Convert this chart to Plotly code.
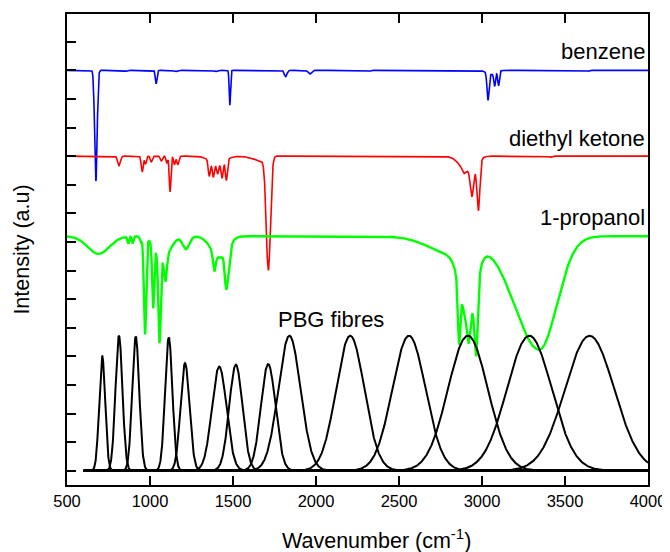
import numpy as np
import plotly.graph_objects as go

# ---------------- data ----------------
wn_start, wn_end, wn_step = 500, 4000, 1.0
pbg_start = 600

# Benzene: offset, band centres (cm-1), depths (a.u.), left / right gaussian widths (cm-1)
benzene_offset = 14.0
benzene_centres = [674, 855, 1037, 1157, 1397, 1481, 1817, 1962, 2326, 3036, 3060, 3076, 3100, 3645]
benzene_depths  = [3.87, 0.03, 0.47, 0.04, 0.04, 1.22, 0.22, 0.13, 0.03, 0.95, 0.14, 0.45, 0.50, 0.03]
benzene_wl      = [7.5, 10, 5, 10, 10, 4, 8, 10, 5, 6, 30, 5, 5, 5]
benzene_wr      = [7.5, 10, 5, 10, 10, 4, 8, 10, 5, 6, 25, 5, 5, 5]

# Diethyl ketone
ketone_offset = 11.0
ketone_centres = [813, 953, 973, 1008, 1068, 1101, 1121, 1147, 1167, 1357, 1381, 1405, 1407, 1434, 1460,
                  1690, 1713, 2890, 2910, 2940, 2978, 3413]
ketone_depths  = [0.33, 0.55, 0.28, 0.20, 0.17, 0.25, 1.25, 0.30, 0.30, 0.55, 0.50, 0.28, 0.35, 0.55, 0.72,
                  0.18, 3.90, 0.15, 0.50, 1.00, 1.75, 0.04]
ketone_wl      = [8, 6, 5, 6, 6, 5, 5, 5, 6, 6, 6, 45, 6, 6, 6,
                  60, 12.5, 10, 45, 10, 9, 8]
ketone_wr      = [8, 6, 5, 6, 6, 5, 5, 5, 6, 6, 6, 45, 6, 6, 6,
                  20, 12.5, 10, 45, 10, 9, 8]

# 1-propanol
propanol_offset = 8.2
propanol_centres = [690, 869, 895, 945, 970, 1019, 1057, 1075, 1093, 1217, 1387, 1420, 1460,
                    2840, 2861, 2915, 2920, 2965, 3345]
propanol_depths  = [0.62, 0.25, 0.25, 0.20, 3.38, 2.15, 3.00, 0.80, 0.85, 0.45, 0.62, 0.75, 1.36,
                    0.65, 2.00, 2.30, 0.85, 2.40, 3.97]
propanol_wl      = [65, 5, 5, 6, 7, 6, 7, 45, 8, 20, 8, 50, 9,
                    150, 7, 45, 10, 10, 150]
propanol_wr      = [65, 5, 5, 6, 7, 6, 7, 45, 8, 20, 8, 45, 15,
                    120, 7, 45, 10, 10, 105]

# PBG fibres: gaussian components (centre, height, sigma)
pbg_centres = [712, 813, 914, 1113, 1211, 1417, 1517, 1712, 1840, 2206, 2560, 2915, 3285, 3648]
pbg_heights = [4.02, 4.72, 4.69, 4.66, 3.76, 3.64, 3.71, 3.73, 4.72, 4.72, 4.72, 4.72, 4.72, 4.72]
pbg_sigmas  = [18, 21, 21, 22, 27, 44, 40, 44, 67, 85, 100, 120, 135, 148]

labels = ["benzene", "diethyl ketone", "1-propanol", "PBG fibres"]
label_x = [3994, 3994, 3994, 1760]
label_y = [14.65, 11.6, 8.87, 5.27]

x_ticks = [500, 1000, 1500, 2000, 2500, 3000, 3500, 4000]

# ---------------- building the curves ----------------
wn = np.arange(wn_start, wn_end + wn_step, wn_step)


def spectrum(offset, centres, depths, wl, wr):
    y = np.full_like(wn, offset, dtype=float)
    for c, d, a, b in zip(centres, depths, wl, wr):
        s = np.where(wn < c, a, b)
        y -= d * np.exp(-0.5 * ((wn - c) / s) ** 2)
    return y


FONT = "Liberation Sans, Arial, sans-serif"
fig = go.Figure()

for name, color, width, args in [
    ("benzene", "#0000ff", 1.6, (benzene_offset, benzene_centres, benzene_depths, benzene_wl, benzene_wr)),
    ("diethyl ketone", "#ff0000", 1.6, (ketone_offset, ketone_centres, ketone_depths, ketone_wl, ketone_wr)),
    ("1-propanol", "#00ff00", 2.4, (propanol_offset, propanol_centres, propanol_depths, propanol_wl, propanol_wr)),
]:
    fig.add_trace(go.Scatter(x=wn, y=spectrum(*args), mode="lines", name=name,
                             line=dict(color=color, width=width), hoverinfo="skip"))

wp = wn[wn >= pbg_start]
for c, h, s in zip(pbg_centres, pbg_heights, pbg_sigmas):
    fig.add_trace(go.Scatter(x=wp, y=h * np.exp(-0.5 * ((wp - c) / s) ** 2), mode="lines",
                             line=dict(color="black", width=2), hoverinfo="skip", showlegend=False))

for t, xx, yy in zip(labels, label_x, label_y):
    fig.add_annotation(x=xx, y=yy, xref="x", yref="y", text=t, showarrow=False,
                       xanchor="left" if t == "PBG fibres" else "right", yanchor="middle",
                       font=dict(family=FONT, size=22, color="black"))

fig.add_annotation(x=0.5325, y=-0.115, xref="paper", yref="paper", text="Wavenumber (cm<sup>-1</sup>)",
                   showarrow=False, xanchor="center", yanchor="middle",
                   font=dict(family=FONT, size=21.5, color="black"))
fig.add_annotation(x=-0.079, y=0.5, xref="paper", yref="paper", text="Intensity (a.u)", textangle=-90,
                   showarrow=False, xanchor="center", yanchor="middle",
                   font=dict(family=FONT, size=21.5, color="black"))

# the page body has an 8 px margin, so the figure is made 8 px smaller and shifted
fig.update_layout(
    width=662, height=544, margin=dict(l=59, r=19, t=4, b=67),
    plot_bgcolor="white", paper_bgcolor="white", showlegend=False,
    font=dict(family=FONT, color="black"),
    xaxis=dict(range=[wn_start, wn_end], tickmode="array", tickvals=x_ticks,
               ticktext=[str(v) for v in x_ticks], ticks="inside", ticklen=9, tickwidth=1.5,
               tickcolor="black", showline=True, linewidth=2, linecolor="black", mirror="ticks",
               showgrid=False, zeroline=False, tickfont=dict(family=FONT, size=16.5, color="black")),
    yaxis=dict(range=[-0.5, 15.97], tick0=0, dtick=1, ticks="inside", ticklen=9, tickwidth=1.5,
               tickcolor="black", showline=True, linewidth=2, linecolor="black", mirror=True,
               showgrid=False, zeroline=False, showticklabels=False),
)

fig.write_html("out.html")
